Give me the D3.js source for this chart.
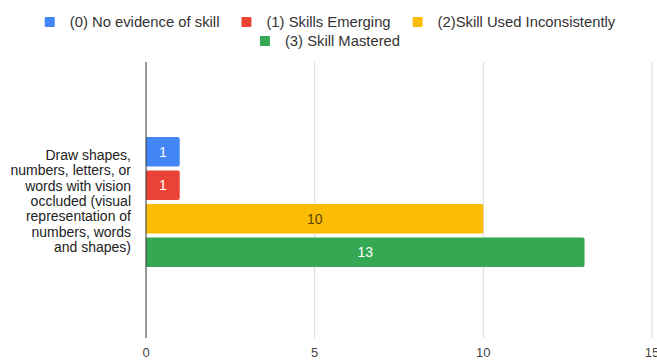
<!DOCTYPE html>
<html>
<head>
<meta charset="utf-8">
<script src="https://cdn.jsdelivr.net/npm/d3@7"></script>
<style>
  html, body { margin: 0; padding: 0; background: #fff; }
  svg { display: block; font-family: Arial, "Liberation Sans", sans-serif; }
</style>
</head>
<body>
<svg id="chart" width="657" height="361"></svg>
<script>
// Skill rating counts for one task, one bar per rating level
const categoryLines = ["Draw shapes,", "numbers, letters, or", "words with vision", "occluded (visual", "representation of", "numbers, words", "and shapes)"];
const seriesNames = ["(0) No evidence of skill", "(1) Skills Emerging", "(2)Skill Used Inconsistently", "(3) Skill Mastered"];
const seriesValues = [1, 1, 10, 13];
const seriesColors = ["#4285f4", "#ea4335", "#fbbc04", "#34a853"];
const labelColors = ["#ffffff", "#ffffff", "#5a4500", "#ffffff"];
const xTicks = [0, 5, 10, 15];
const legendRows = [[0, 1, 2], [3]];

const svg = d3.select("#chart");
const W = 657, H = 361;
const plotTop = 62, plotBottom = 338;

const x = d3.scaleLinear().domain([0, 15]).range([146, 652]);
const y = d3.scaleBand().domain(d3.range(seriesValues.length))
  .range([137, 267]).paddingInner(0.12).paddingOuter(0);

// Gridlines
svg.append("g").selectAll("line").data(xTicks.slice(1)).join("line")
  .attr("x1", d => x(d)).attr("x2", d => x(d))
  .attr("y1", plotTop).attr("y2", plotBottom)
  .attr("stroke", "#d9d9d9").attr("stroke-width", 1);

// Tick labels
svg.append("g").selectAll("text").data(xTicks).join("text")
  .attr("x", d => x(d)).attr("y", 357)
  .attr("text-anchor", "middle")
  .attr("font-size", 13).attr("fill", "#444")
  .text(d => d);

// Bars
svg.append("g").selectAll("path").data(seriesValues).join("path")
  .attr("d", (d, i) => {
    const x0 = x(0), x1 = x(d), y0 = y(i), h = y.bandwidth(), r = 2;
    return `M${x0},${y0}H${x1 - r}Q${x1},${y0} ${x1},${y0 + r}V${y0 + h - r}Q${x1},${y0 + h} ${x1 - r},${y0 + h}H${x0}Z`;
  })
  .attr("fill", (d, i) => seriesColors[i]);

// Value labels centred in bars
svg.append("g").selectAll("text").data(seriesValues).join("text")
  .attr("x", d => (x(0) + x(d)) / 2)
  .attr("y", (d, i) => y(i) + y.bandwidth() / 2 + 5)
  .attr("text-anchor", "middle")
  .attr("font-size", 14)
  .attr("fill", (d, i) => labelColors[i])
  .text(d => d);

// Baseline axis
svg.append("line")
  .attr("x1", x(0)).attr("x2", x(0))
  .attr("y1", plotTop).attr("y2", plotBottom)
  .attr("stroke", "#333").attr("stroke-width", 1);

// Category label, wrapped and right-aligned against the axis
const cat = svg.append("text")
  .attr("text-anchor", "end")
  .attr("font-size", 14).attr("fill", "#222");
categoryLines.forEach((t, i) => {
  cat.append("tspan").attr("x", 131).attr("y", 160 + i * 15.3).text(t);
});

// Legend: each row centred over the chart
const sq = 10, gapIn = 15, gapOut = 22, legendCenter = 330;
legendRows.forEach((row, r) => {
  const cy = 22 + r * 19;
  const g = svg.append("g");
  let cx = 0;
  row.forEach(i => {
    g.append("rect")
      .attr("x", cx).attr("y", cy - 5)
      .attr("width", sq).attr("height", sq).attr("rx", 1)
      .attr("fill", seriesColors[i]);
    const t = g.append("text")
      .attr("x", cx + sq + gapIn).attr("y", cy + 5)
      .attr("font-size", 14.8).attr("fill", "#333")
      .text(seriesNames[i]);
    cx += sq + gapIn + t.node().getComputedTextLength() + gapOut;
  });
  const total = cx - gapOut;
  g.attr("transform", `translate(${legendCenter - total / 2},0)`);
});
</script>
</body>
</html>
